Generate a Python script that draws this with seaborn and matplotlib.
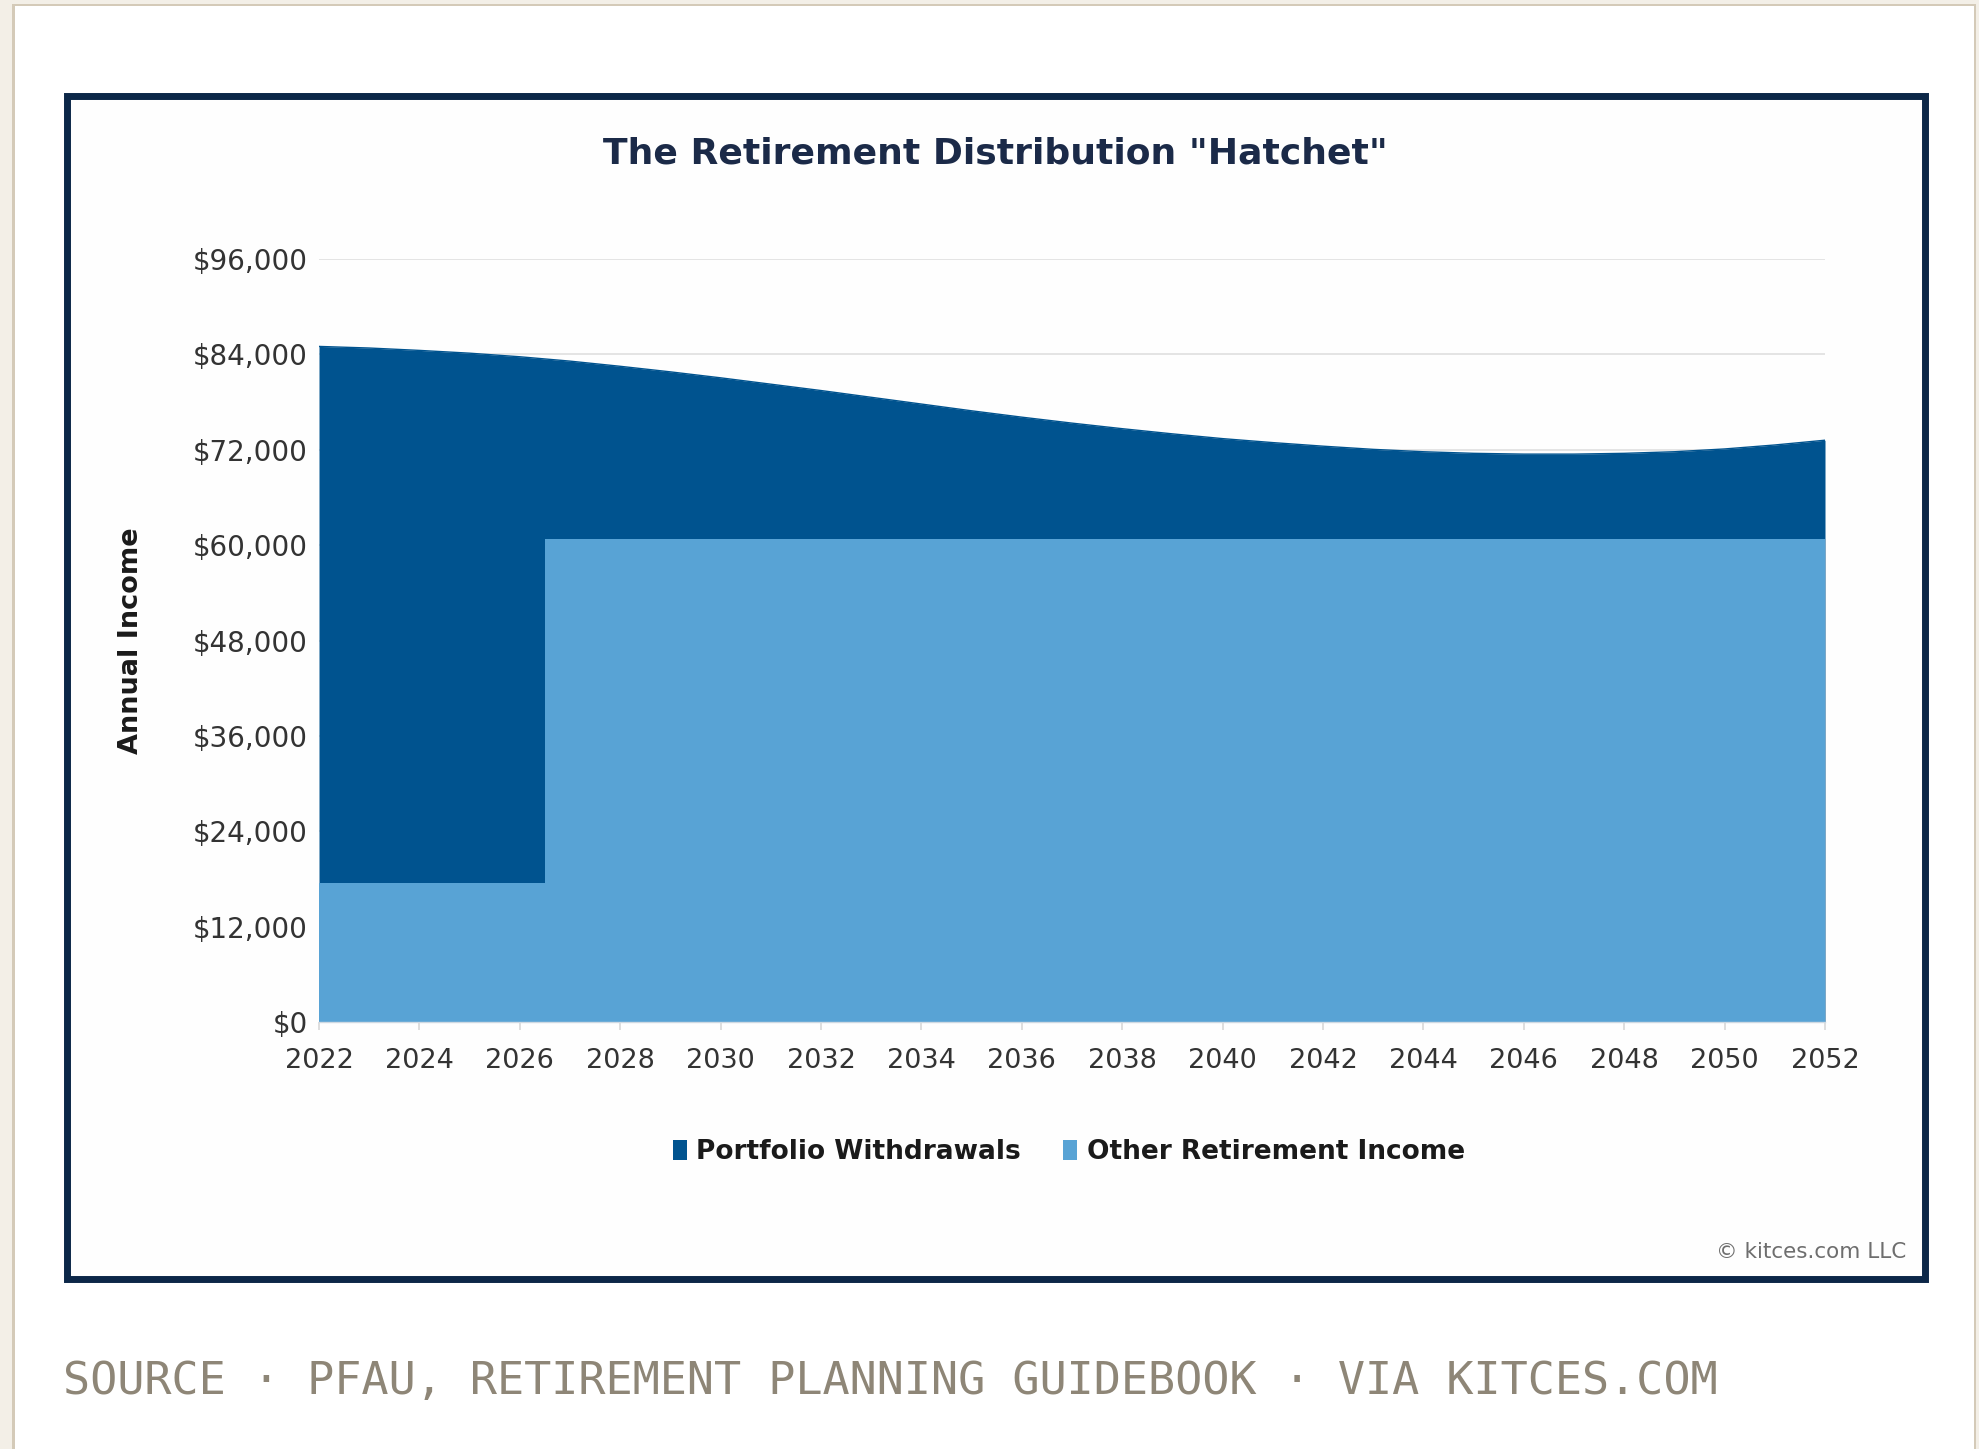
import matplotlib
matplotlib.use("Agg")
import matplotlib.pyplot as plt
import seaborn as sns
import pandas as pd
from matplotlib.patches import Rectangle, Patch

# ---------------- data ----------------
years = [2022, 2023, 2024, 2025, 2026, 2027, 2028, 2029, 2030, 2031, 2032,
         2033, 2034, 2035, 2036, 2037, 2038, 2039, 2040, 2041, 2042,
         2043, 2044, 2045, 2046, 2047, 2048, 2049, 2050, 2051, 2052]
total_income = [85000, 84800, 84500, 84150, 83700, 83150, 82500, 81800, 81050, 80250, 79450,
                78600, 77750, 76900, 76100, 75350, 74650, 74000, 73400, 72900, 72450,
                72050, 71750, 71550, 71450, 71450, 71550, 71750, 72100, 72600, 73200]
other_income = [17500, 17500, 17500, 17500, 17500, 60800, 60800, 60800, 60800, 60800, 60800,
                60800, 60800, 60800, 60800, 60800, 60800, 60800, 60800, 60800, 60800,
                60800, 60800, 60800, 60800, 60800, 60800, 60800, 60800, 60800, 60800]
series_names = ["Portfolio Withdrawals", "Other Retirement Income"]
y_ticks = [0, 12000, 24000, 36000, 48000, 60000, 72000, 84000, 96000]
y_tick_labels = ["$0", "$12,000", "$24,000", "$36,000", "$48,000", "$60,000",
                 "$72,000", "$84,000", "$96,000"]
x_ticks = [2022, 2024, 2026, 2028, 2030, 2032, 2034, 2036, 2038, 2040,
           2042, 2044, 2046, 2048, 2050, 2052]
title = 'The Retirement Distribution "Hatchet"'
y_label = "Annual Income"
credit = "© kitces.com LLC"
source = "SOURCE · PFAU, RETIREMENT PLANNING GUIDEBOOK · VIA KITCES.COM"

df = pd.DataFrame({"year": years, "total": total_income, "other": other_income})

DARK = "#00538f"
LIGHT = "#58a3d5"

sns.set_theme(style="white")
plt.rcParams["font.family"] = ["DejaVu Sans"]

W, H = 1979, 1449
fig = plt.figure(figsize=(W / 100, H / 100), dpi=100)
fig.patch.set_facecolor("white")

def fx(px):
    return px / W

def fy(py):
    return 1 - py / H

# page margins (beige) and card border
fig.patches.append(Rectangle((0, 0), fx(12), 1, transform=fig.transFigure,
                             facecolor="#f3efe7", edgecolor="none", zorder=-5))
fig.patches.append(Rectangle((fx(12), 0), fx(2.5), 1, transform=fig.transFigure,
                             facecolor="#d4cab8", edgecolor="none", zorder=-5))
fig.patches.append(Rectangle((0, fy(4)), 1, 4 / H, transform=fig.transFigure,
                             facecolor="#f3efe7", edgecolor="none", zorder=-5))
fig.patches.append(Rectangle((fx(12), fy(6)), 1, 2 / H, transform=fig.transFigure,
                             facecolor="#d4cab8", edgecolor="none", zorder=-5))
fig.patches.append(Rectangle((fx(1976), 0), fx(4), 1, transform=fig.transFigure,
                             facecolor="#f3efe7", edgecolor="none", zorder=-5))
fig.patches.append(Rectangle((fx(1974), 0), fx(2), fy(6), transform=fig.transFigure,
                             facecolor="#d4cab8", edgecolor="none", zorder=-5))

# chart frame
fig.patches.append(Rectangle((fx(66.5), fy(1278.5)), fx(1924.5 - 66.5), (1278.5 - 95.5) / H,
                             transform=fig.transFigure, facecolor="#fefefe",
                             edgecolor="#0c2748", linewidth=5, zorder=-1))

ax = fig.add_axes([fx(319), fy(1022), fx(1825 - 319), (1022 - 259) / H])
ax.set_facecolor("#fefefe")

# areas
ax.fill_between(df["year"], 0, df["total"], color=DARK, linewidth=0, zorder=2)
sns.lineplot(data=df, x="year", y="total", color=DARK, linewidth=1.0, ax=ax, zorder=3)
ax.fill_between(df["year"], 0, df["other"], step="mid", color=LIGHT, linewidth=0, zorder=4)

ax.set_xlim(2022, 2052)
ax.set_ylim(0, 96000)
ax.set_yticks(y_ticks)
ax.set_yticklabels(y_tick_labels)
ax.set_xticks(x_ticks)
ax.set_xticklabels([str(y) for y in x_ticks])
ax.set_xlabel("")
ax.set_ylabel("")

ax.yaxis.grid(True, color="#e4e4e4", linewidth=1.4)
ax.xaxis.grid(False)
ax.set_axisbelow(True)
for s in ["top", "right", "left"]:
    ax.spines[s].set_visible(False)
ax.spines["bottom"].set_color("#cfd9e2")
ax.spines["bottom"].set_linewidth(1.0)
ax.spines["bottom"].set_zorder(5)

ax.tick_params(axis="x", which="major", bottom=True, length=6, width=1.2, color="#d8d8d8",
               pad=13, labelsize=19.5, labelcolor="#333333")
ax.tick_params(axis="y", which="major", left=False, length=0, pad=8,
               labelsize=20, labelcolor="#333333")

# title / labels
fig.text(fx(995), fy(153), title, ha="center", va="center", fontsize=26,
         fontweight="bold", color="#1b2a48")
fig.text(fx(131), fy(641), y_label, ha="center", va="center", rotation=90,
         fontsize=19.5, fontweight="bold", color="#1a1a1a")

# legend
handles = [Patch(facecolor=DARK, edgecolor="none"), Patch(facecolor=LIGHT, edgecolor="none")]
fig.legend(handles, series_names, loc="center", bbox_to_anchor=(fx(1069), fy(1152)),
           ncol=2, frameon=False, prop={"weight": "bold", "size": 19},
           handlelength=0.53, handleheight=0.76, handletextpad=0.35, columnspacing=1.6,
           labelcolor="#1a1a1a")

fig.text(fx(1906), fy(1252), credit, ha="right", va="center", fontsize=15.5, color="#6e6e6e")
fig.text(fx(63), fy(1382), source, ha="left", va="center", fontsize=32.5,
         family="DejaVu Sans Mono", color="#8e8677")

fig.savefig("out.png", dpi=100)
